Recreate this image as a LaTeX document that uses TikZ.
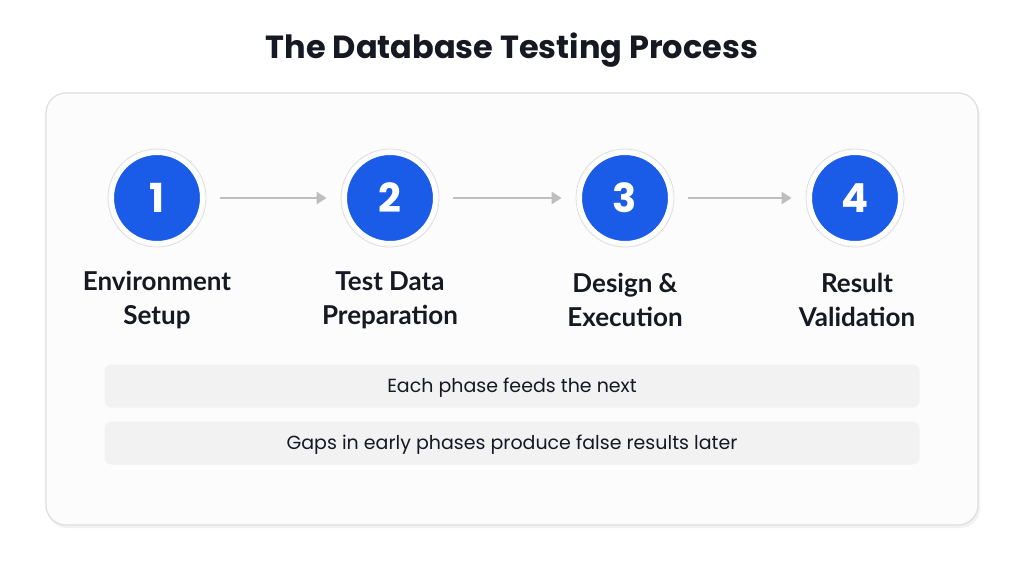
\documentclass[tikz,border=0pt]{standalone}
\usepackage{fontspec}
\setmainfont{Poppins}
\newfontfamily\labelfont{Lato}
\usetikzlibrary{arrows.meta}
\definecolor{stepblue}{RGB}{26,92,232}
\definecolor{panelline}{RGB}{222,222,222}
\definecolor{barfill}{RGB}{242,242,242}
\definecolor{arrowgray}{RGB}{190,190,190}
\definecolor{textdark}{RGB}{22,24,34}
\tikzset{
  stepcircle/.style={circle, fill=stepblue, draw=white, line width=4pt, minimum size=90pt, inner sep=0pt,
    text=white, font=\fontsize{40}{40}\selectfont\bfseries},
  ringcircle/.style={circle, draw=panelline, line width=0.8pt, minimum size=98pt, inner sep=0pt},
  steplabel/.style={align=center, text=textdark, font=\labelfont\fontsize{26}{34}\selectfont\bfseries},
  flowarrow/.style={draw=arrowgray, line width=2.5pt, shorten <=14pt, shorten >=14pt, -{Triangle[length=10pt,width=12pt]}},
  notebar/.style={fill=barfill, rounded corners=7pt, draw=none, minimum width=815pt, minimum height=43pt, inner sep=0pt},
  notetext/.style={text=textdark, font=\fontsize{19}{19}\selectfont},
}
\begin{document}
\begin{tikzpicture}[x=1pt,y=-1pt]
\useasboundingbox (0,0) rectangle (1024,576);
\fill[white] (0,0) rectangle (1024,576);
\node[text=textdark, font=\fontsize{32}{32}\selectfont\bfseries] (title) at (512,50) {The Database Testing Process};
\fill[black!5, rounded corners=20pt] (47,96) rectangle (980,528);
\draw[panelline, fill=white!99!black, line width=1.2pt, rounded corners=20pt] (46,93) rectangle (978,525);
\foreach \i/\x in {1/157,2/390,3/625,4/855}{
  \node[ringcircle] (r\i) at (\x,198) {};
  \node[stepcircle] (c\i) at (\x,198) {\i};
}
\draw[flowarrow] (r1) -- (r2);
\draw[flowarrow] (r2) -- (r3);
\draw[flowarrow] (r3) -- (r4);
\node[steplabel] (l1) at (157,300) {Environment\\Setup};
\node[steplabel] (l2) at (390,300) {Test Data\\Preparation};
\node[steplabel] (l3) at (625,300) {Design \&\\Execution};
\node[steplabel] (l4) at (857,300) {Result\\Validation};
\node[notebar] (b1) at (512,386) {};
\node[notetext] (t1) at (512,388) {Each phase feeds the next};
\node[notebar] (b2) at (512,443) {};
\node[notetext] (t2) at (512,445) {Gaps in early phases produce false results later};
\end{tikzpicture}
\end{document}
